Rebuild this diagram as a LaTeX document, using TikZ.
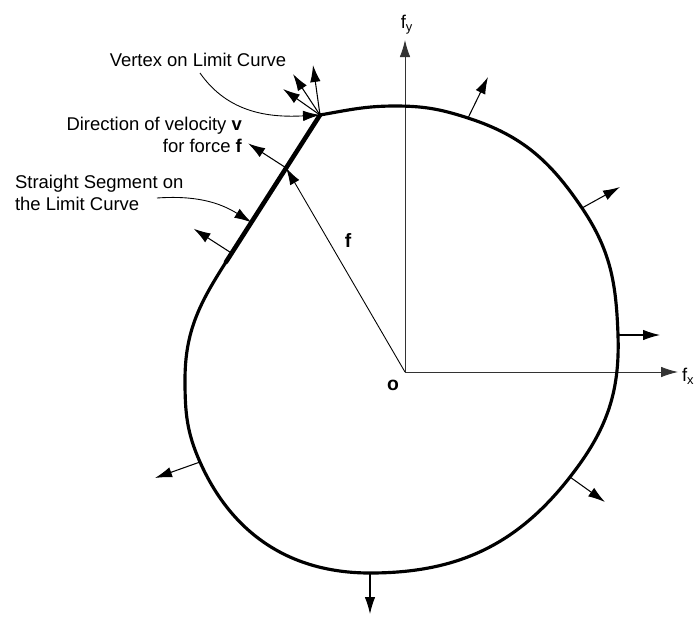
\documentclass[tikz,border=0pt]{standalone}
\usepackage{fontspec}
\setmainfont{Liberation Sans}
\usepackage{tikz}
\usetikzlibrary{arrows.meta, calc}
\tikzset{
  limitcurve/.style={line width=1.8pt, line join=round},
  segline/.style={line width=2.6pt, line cap=round},
  normarrow/.style={
    -{Latex[length=3.4mm, width=2.1mm]}, line width=0.6pt
  },
  axisarrow/.style={
    -{Latex[length=3.4mm, width=2.1mm]}, line width=0.5pt, color=black!80
  },
  leaderarrow/.style={
    -{Latex[length=3.4mm, width=2.1mm]}, line width=0.5pt
  },
  lbltext/.style={font=\fontsize{10.5}{12.5}\selectfont, inner sep=1pt},
}

\begin{document}
\begin{tikzpicture}
  \useasboundingbox (-8.1,-4.9) rectangle (5.9,7.44);

  % --- axes ---
  \coordinate (O) at (0,0);
  \coordinate (fyend) at (0,6.64);
  \coordinate (fxend) at (5.46,0);
  \draw[axisarrow] (O) -- (fyend);
  \draw[axisarrow] (O) -- (fxend);
  \node[lbltext, anchor=south] (fylbl) at (0.04,6.72) {f\textsubscript{y}};
  \node[lbltext, anchor=west] (fxlbl) at (5.50,-0.08) {f\textsubscript{x}};
  \node[lbltext, font=\fontsize{11}{12}\selectfont\bfseries] (olbl) at (-0.24,-0.26) {o};

  % --- limit curve ---
  \coordinate (V) at (-1.70,5.14);
  \coordinate (E) at (-3.58,2.20);
  \coordinate (T) at (-0.20,5.32);
  \coordinate (P2) at (1.26,5.08);
  \coordinate (P3) at (3.54,3.28);
  \coordinate (P4) at (4.26,0.74);
  \coordinate (P5) at (3.30,-2.10);
  \coordinate (P6) at (-0.70,-4.02);
  \coordinate (P7) at (-4.10,-1.80);
  \coordinate (L) at (-4.40,-0.16);

  \draw[limitcurve] (V) to[out=10, in=180] (T)
    to[out=0, in=162] (P2)
    to[out=-18, in=124] (P3)
    to[out=-56, in=92] (P4)
    to[out=-88, in=52] (P5)
    to[out=-128, in=0] (P6)
    to[out=180, in=-66] (P7)
    to[out=114, in=-90] (L)
    to[out=90, in=-122.6] (E);
  \draw[segline] (E) -- (V);

  % normals on the smooth part
  \coordinate (n2) at (1.66,5.90);
  \coordinate (n3) at (4.30,3.70);
  \coordinate (n4) at (5.10,0.74);
  \coordinate (n5) at (4.00,-2.60);
  \coordinate (n6) at (-0.70,-4.84);
  \coordinate (n7) at (-5.00,-2.12);
  \foreach \p in {2,...,7}
    \draw[normarrow] (P\p) -- (n\p);

  % normal cone at the vertex
  \coordinate (va) at (-1.84,6.14);
  \coordinate (vb) at (-2.24,5.96);
  \coordinate (vc) at (-2.44,5.66);
  \foreach \q in {va,vb,vc}
    \draw[normarrow] (V) -- (\q);

  % --- force f and velocity v ---
  \coordinate (F) at ($(V)!0.36!(E)$);
  \coordinate (vtip) at ($(F)+(-0.76,0.49)$);
  \draw[leaderarrow] (O) -- (F);
  \draw[normarrow] (F) -- (vtip);
  \node[lbltext, font=\fontsize{11}{12}\selectfont\bfseries] (flbl) at (-1.14,2.64) {f};

  % normal on the straight segment
  \coordinate (S1) at ($(V)!0.94!(E)$);
  \coordinate (s1tip) at ($(S1)+(-0.76,0.49)$);
  \draw[normarrow] (S1) -- (s1tip);

  % --- labels with leaders ---
  \node[lbltext] (vertexlbl) at (-4.14,6.24) {Vertex on Limit Curve};
  \coordinate (vlstart) at (-4.10,5.98);
  \draw[leaderarrow] (vlstart) to[out=-55, in=183] (V);

  \node[lbltext, anchor=east, align=right] (dirlbl) at (-3.22,4.74)
    {Direction of velocity \textbf{v}\\for force \textbf{f}};

  \node[lbltext, anchor=west, align=left] (seglbl) at (-7.84,3.58)
    {Straight Segment on\\the Limit Curve};
  \coordinate (slstart) at (-4.96,3.48);
  \coordinate (S2) at ($(V)!0.73!(E)$);
  \draw[leaderarrow] (slstart) to[out=4, in=148] (S2);
\end{tikzpicture}
\end{document}
